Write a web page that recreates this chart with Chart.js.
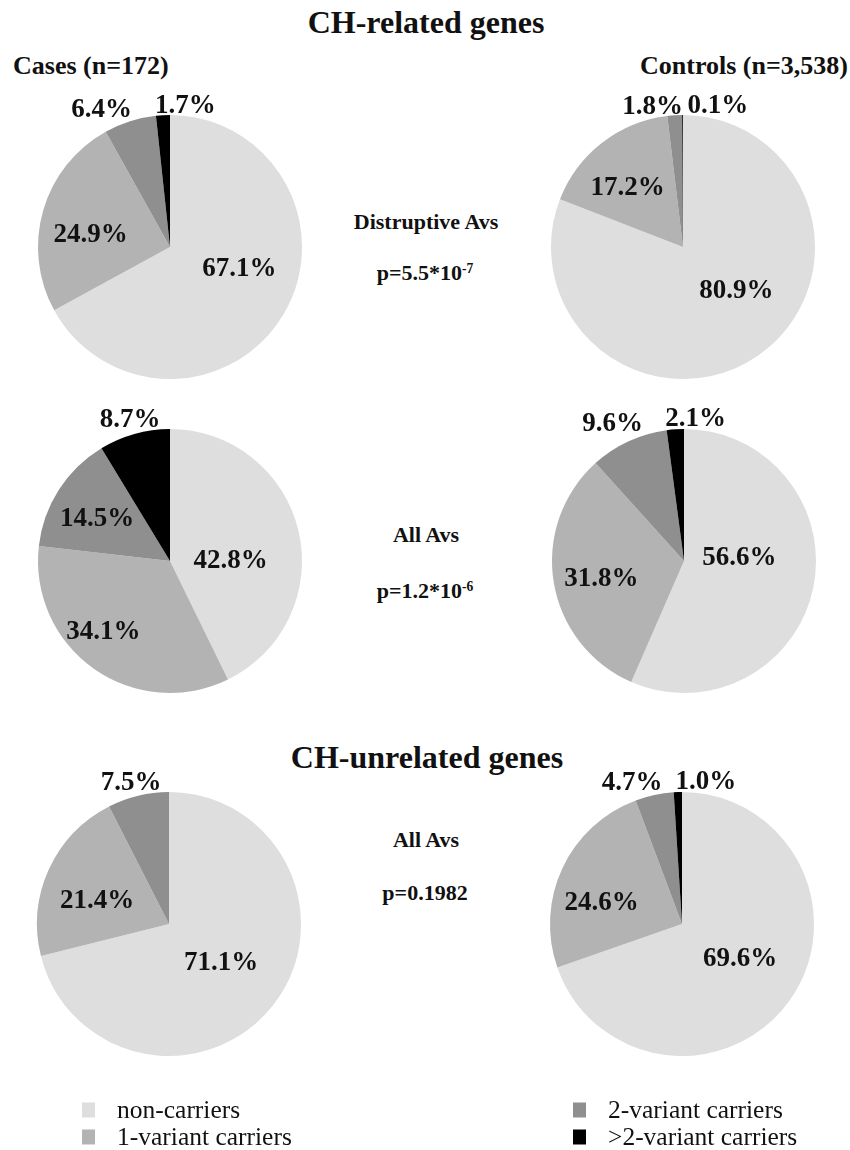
<!DOCTYPE html>
<html>
<head>
<meta charset="utf-8">
<script src="https://cdn.jsdelivr.net/npm/chart.js@4.4.1/dist/chart.umd.min.js"></script>
<style>
  html, body { margin: 0; padding: 0; background: #fff; }
  body { width: 850px; height: 1150px; position: relative; overflow: hidden;
         font-family: "Liberation Serif", "Times New Roman", serif; color: #111; }
  .t { position: absolute; white-space: nowrap; line-height: 1; font-weight: bold; }
  .c { transform: translate(-50%, -50%); }
  .l { transform: translateY(-50%); }
  .pie { position: absolute; width: 340px; height: 340px; }
  sup { font-size: 0.62em; vertical-align: 0.55em; line-height: 0; }
  .lg { position: absolute; font-family: "Liberation Serif", "Times New Roman", serif; font-weight: normal;
        font-size: 25.5px; line-height: 1; white-space: nowrap; transform: translateY(-50%); }
  .sw { position: absolute; width: 13px; height: 15px; transform: translateY(-50%); }
</style>
</head>
<body>
<div class="t c" style="left:426px; top:22px; font-size:32px;">CH-related genes</div>
<div class="t l" style="left:13px; top:66px; font-size:26px;">Cases (n=172)</div>
<div class="t l" style="left:640px; top:66px; font-size:26px;">Controls (n=3,538)</div>

<div class="t c" style="left:426px; top:222px; font-size:22px;">Distruptive Avs</div>
<div class="t c" style="left:425px; top:273px; font-size:22px;">p=5.5*10<sup>-7</sup></div>

<div class="t c" style="left:426px; top:535px; font-size:22px;">All Avs</div>
<div class="t c" style="left:425px; top:591px; font-size:22px;">p=1.2*10<sup>-6</sup></div>

<div class="t c" style="left:427px; top:757px; font-size:32px;">CH-unrelated genes</div>
<div class="t c" style="left:426px; top:840px; font-size:22px;">All Avs</div>
<div class="t c" style="left:425px; top:893px; font-size:22px;">p=0.1982</div>

<div class="pie" style="left:0px; top:77px;"><canvas id="pA" width="340" height="340"></canvas></div>
<div class="pie" style="left:513px; top:77px;"><canvas id="pB" width="340" height="340"></canvas></div>
<div class="pie" style="left:0px; top:391px;"><canvas id="pC" width="340" height="340"></canvas></div>
<div class="pie" style="left:514px; top:391px;"><canvas id="pD" width="340" height="340"></canvas></div>
<div class="pie" style="left:-1px; top:754px;"><canvas id="pE" width="340" height="340"></canvas></div>
<div class="pie" style="left:512px; top:754px;"><canvas id="pF" width="340" height="340"></canvas></div>

<div id="legend"></div>

<script>
// Carrier groups, in the clockwise order the slices are drawn
const categories = ['non-carriers', '1-variant carriers', '2-variant carriers', '>2-variant carriers'];
const sliceColors = ['#dedede', '#b3b3b3', '#8f8f8f', '#000000'];

// Percent of subjects per group
const relDisruptiveCases    = [67.1, 24.9, 6.4, 1.7];
const relDisruptiveControls = [80.9, 17.2, 1.8, 0.1];
const relAllCases           = [42.8, 34.1, 14.5, 8.7];
const relAllControls        = [56.6, 31.8, 9.6, 2.1];
const unrelAllCases         = [71.1, 21.4, 7.5, 0];
const unrelAllControls      = [69.6, 24.6, 4.7, 1.0];

// Label placement relative to each slice: [angle shift in degrees, fraction of radius]
const labelPlacement = {
  pA: [[-13.6, 0.55], [-6.8, 0.61], [-8.7, 1.17], [9.2, 1.08]],
  pB: [[-16.6, 0.52], [-4.7, 0.62], [-8.6, 1.09], [14.0, 1.11]],
  pC: [[12, 0.46], [8.4, 0.73], [-2.4, 0.64], [0, 1.12]],
  pD: [[-16, 0.42], [-2.6, 0.64], [-2.5, 1.18], [8.4, 1.09]],
  pE: [[-1.8, 0.49], [-6, 0.575], [-1.5, 1.11], [0, 1.0]],
  pF: [[-5, 0.51], [-10, 0.63], [-7.3, 1.14], [11.3, 1.1]]
};

const percentLabels = {
  id: 'percentLabels',
  afterDatasetsDraw(chart) {
    const ctx = chart.ctx;
    const meta = chart.getDatasetMeta(0);
    const values = chart.data.datasets[0].data;
    const place = labelPlacement[chart.canvas.id];
    ctx.save();
    ctx.font = 'bold 27px "Liberation Serif", "Times New Roman", serif';
    ctx.fillStyle = '#111';
    ctx.textAlign = 'center';
    ctx.textBaseline = 'middle';
    meta.data.forEach((arc, i) => {
      if (!values[i]) return;
      const p = arc.getProps(['x', 'y', 'startAngle', 'endAngle', 'outerRadius'], true);
      const mid = (p.startAngle + p.endAngle) / 2 + place[i][0] * Math.PI / 180;
      const r = p.outerRadius * place[i][1];
      ctx.fillText(values[i].toFixed(1) + '%', p.x + Math.cos(mid) * r, p.y + Math.sin(mid) * r + 1);
    });
    ctx.restore();
  }
};

function drawPie(id, values) {
  new Chart(document.getElementById(id), {
    type: 'pie',
    data: {
      labels: categories,
      datasets: [{ data: values, backgroundColor: sliceColors, borderWidth: 0 }]
    },
    options: {
      responsive: false,
      animation: false,
      layout: { padding: 38 },
      plugins: { legend: { display: false }, tooltip: { enabled: false } }
    },
    plugins: [percentLabels]
  });
}

drawPie('pA', relDisruptiveCases);
drawPie('pB', relDisruptiveControls);
drawPie('pC', relAllCases);
drawPie('pD', relAllControls);
drawPie('pE', unrelAllCases);
drawPie('pF', unrelAllControls);

// Legend: two columns of two entries
const legendSlots = [[82, 1110], [82, 1137], [573, 1110], [573, 1137]];
const legend = document.getElementById('legend');
categories.forEach((name, i) => {
  const [x, y] = legendSlots[i];
  const sw = document.createElement('div');
  sw.className = 'sw';
  sw.style.left = x + 'px';
  sw.style.top = y + 'px';
  sw.style.background = sliceColors[i];
  legend.appendChild(sw);
  const tx = document.createElement('div');
  tx.className = 'lg';
  tx.style.left = (x + 35) + 'px';
  tx.style.top = y + 'px';
  tx.textContent = name;
  legend.appendChild(tx);
});
</script>
</body>
</html>
